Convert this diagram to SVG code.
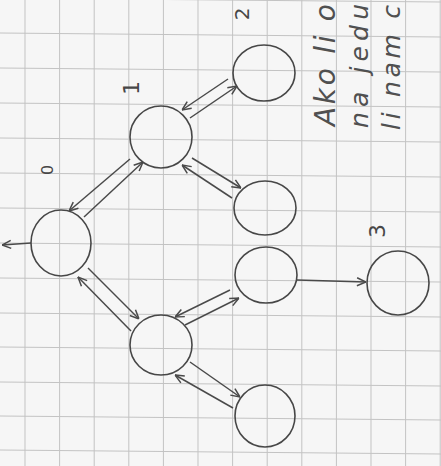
<svg xmlns="http://www.w3.org/2000/svg" width="441" height="466" viewBox="0 0 441 466">
<style>
.grid line{stroke:#c3c3c3;stroke-width:1}
.node ellipse{fill:none;stroke:#474747;stroke-width:1.6}
.edges line{stroke:#4a4a4a;stroke-width:1.5;fill:none}
.lbl{font-family:"DejaVu Sans",sans-serif;fill:#474747;text-anchor:middle;dominant-baseline:central}
.note{font-family:"DejaVu Sans",sans-serif;fill:#505050;font-style:italic}
</style>
<defs>
<marker id="ah" viewBox="0 0 10 10" refX="10" refY="5" markerWidth="10" markerHeight="10" markerUnits="userSpaceOnUse" orient="auto">
<path d="M1,1 L10,5 L1,9" fill="none" stroke="#4a4a4a" stroke-width="1.5"/>
</marker>
</defs>
<rect width="441" height="466" fill="#f6f6f6"/>
<g class="grid">
<line x1="25" y1="0" x2="25" y2="466"/>
<line x1="59.6" y1="0" x2="59.6" y2="466"/>
<line x1="94.2" y1="0" x2="94.2" y2="466"/>
<line x1="128.8" y1="0" x2="128.8" y2="466"/>
<line x1="163.4" y1="0" x2="163.4" y2="466"/>
<line x1="198" y1="0" x2="198" y2="466"/>
<line x1="232.6" y1="0" x2="232.6" y2="466"/>
<line x1="267.2" y1="0" x2="267.2" y2="466"/>
<line x1="301.8" y1="0" x2="301.8" y2="466"/>
<line x1="336.4" y1="0" x2="336.4" y2="466"/>
<line x1="371" y1="0" x2="371" y2="466"/>
<line x1="405.6" y1="0" x2="405.6" y2="466"/>
<line x1="440.2" y1="0" x2="440.2" y2="466"/>
<line x1="0" y1="-2" x2="441" y2="2"/>
<line x1="0" y1="33" x2="441" y2="37"/>
<line x1="0" y1="68" x2="441" y2="72"/>
<line x1="0" y1="103" x2="441" y2="107"/>
<line x1="0" y1="138" x2="441" y2="142"/>
<line x1="0" y1="173" x2="441" y2="177"/>
<line x1="0" y1="208" x2="441" y2="212"/>
<line x1="0" y1="243" x2="441" y2="247"/>
<line x1="0" y1="278" x2="441" y2="282"/>
<line x1="0" y1="313" x2="441" y2="317"/>
<line x1="0" y1="347" x2="441" y2="351"/>
<line x1="0" y1="382" x2="441" y2="386"/>
<line x1="0" y1="416" x2="441" y2="420"/>
<line x1="0" y1="450" x2="441" y2="454"/>
</g>
<g class="edges">
<line x1="130" y1="159" x2="69" y2="211" marker-end="url(#ah)"/>
<line x1="84" y1="217" x2="143" y2="162" marker-end="url(#ah)"/>
<line x1="228" y1="79" x2="182" y2="110" marker-end="url(#ah)"/>
<line x1="190" y1="118" x2="237" y2="86" marker-end="url(#ah)"/>
<line x1="192" y1="158" x2="241" y2="188" marker-end="url(#ah)"/>
<line x1="232" y1="198" x2="182" y2="165" marker-end="url(#ah)"/>
<line x1="88" y1="268" x2="139" y2="319" marker-end="url(#ah)"/>
<line x1="131" y1="331" x2="78" y2="277" marker-end="url(#ah)"/>
<line x1="230" y1="290" x2="175" y2="317" marker-end="url(#ah)"/>
<line x1="185" y1="325" x2="239" y2="298" marker-end="url(#ah)"/>
<line x1="190" y1="362" x2="240" y2="397" marker-end="url(#ah)"/>
<line x1="233" y1="408" x2="175" y2="375" marker-end="url(#ah)"/>
<line x1="297" y1="280" x2="366" y2="282" marker-end="url(#ah)"/>
<line x1="31" y1="243" x2="2" y2="245" marker-end="url(#ah)"/>
</g>
<g id="node0" class="node"><ellipse cx="61" cy="243" rx="30" ry="33"/><text class="lbl" font-size="16" transform="translate(47,170) rotate(-90)">0</text></g>
<g id="node1" class="node"><ellipse cx="161" cy="137" rx="31" ry="31"/><text class="lbl" font-size="22" transform="translate(131,88) rotate(-90)">1</text></g>
<g id="node2" class="node"><ellipse cx="264" cy="73" rx="31" ry="28"/><text class="lbl" font-size="20" transform="translate(242,14) rotate(-90)">2</text></g>
<g id="node1b" class="node"><ellipse cx="265" cy="208" rx="31" ry="27"/></g>
<g id="node4" class="node"><ellipse cx="266" cy="275" rx="31" ry="28"/></g>
<g id="node3" class="node"><ellipse cx="398" cy="283" rx="31" ry="32"/><text class="lbl" font-size="22" transform="translate(377,231) rotate(-90)">3</text></g>
<g id="node5" class="node"><ellipse cx="161" cy="345" rx="31" ry="30"/></g>
<g id="node6" class="node"><ellipse cx="265" cy="416" rx="30" ry="31"/></g>
<g id="note">
<text class="note" font-size="28" transform="translate(335,126) rotate(-90)" textLength="122" lengthAdjust="spacing">Ako li o</text>
<text class="note" font-size="25" transform="translate(368,128) rotate(-90)" textLength="124" lengthAdjust="spacing">na jedu</text>
<text class="note" font-size="25" transform="translate(400,130) rotate(-90)" textLength="125" lengthAdjust="spacing">li nam c</text>
</g>
</svg>
